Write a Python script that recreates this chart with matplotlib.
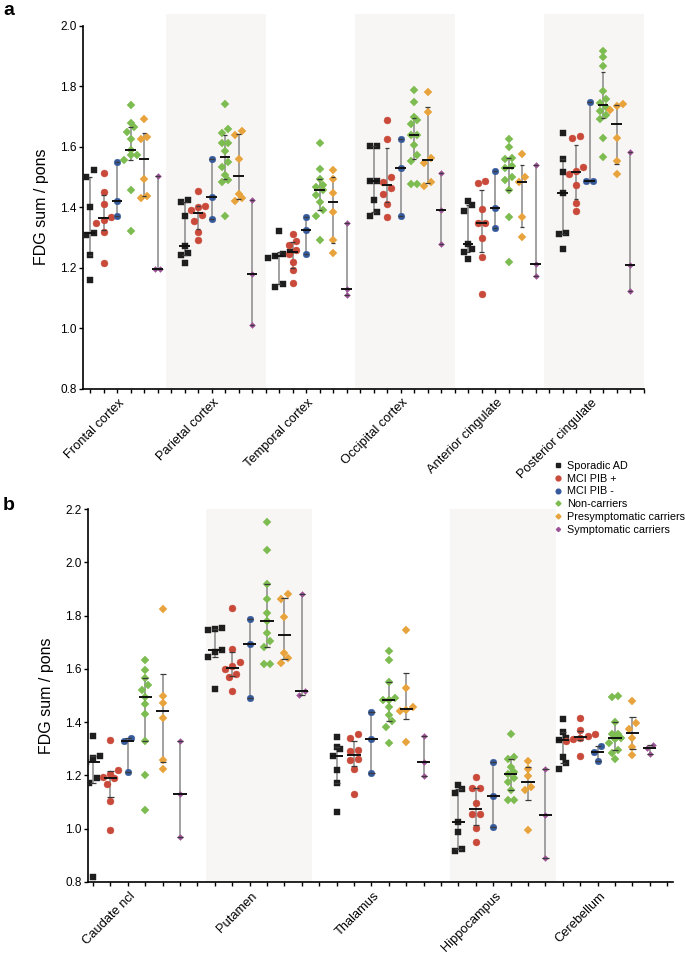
import numpy as np
import matplotlib
matplotlib.use("Agg")
import matplotlib.pyplot as plt
import matplotlib.transforms as mtransforms
from matplotlib.lines import Line2D

plt.rcParams['font.family'] = ['Liberation Sans', 'DejaVu Sans']

# ---------------- data ----------------
groups = ['Sporadic AD', 'MCI PIB +', 'MCI PIB -', 'Non-carriers',
          'Presymptomatic carriers', 'Symptomatic carriers']

regions_a = ['Frontal cortex', 'Parietal cortex', 'Temporal cortex',
             'Occipital cortex', 'Anterior cingulate', 'Posterior cingulate']
regions_b = ['Caudate ncl', 'Putamen', 'Thalamus', 'Hippocampus', 'Cerebellum']

yticks_a = [0.8, 1.0, 1.2, 1.4, 1.6, 1.8, 2.0]
yticks_b = [0.8, 1.0, 1.2, 1.4, 1.6, 1.8, 2.0, 2.2]

sporadic_a = [
    [1.523, 1.501, 1.402, 1.314, 1.308, 1.242, 1.159],
    [1.423, 1.418, 1.372, 1.272, 1.250, 1.241, 1.215],
    [1.322, 1.253, 1.245, 1.240, 1.231, 1.146, 1.135],
    [1.602, 1.602, 1.487, 1.487, 1.423, 1.385, 1.370],
    [1.422, 1.407, 1.388, 1.277, 1.261, 1.253, 1.228],
    [1.646, 1.560, 1.516, 1.446, 1.314, 1.310, 1.261],
]
mci_pos_a = [
    [1.512, 1.449, 1.411, 1.369, 1.358, 1.347, 1.319, 1.215],
    [1.454, 1.404, 1.400, 1.390, 1.374, 1.355, 1.319, 1.291],
    [1.313, 1.289, 1.275, 1.258, 1.245, 1.220, 1.192, 1.150],
    [1.688, 1.627, 1.500, 1.484, 1.465, 1.443, 1.410, 1.366],
    [1.486, 1.479, 1.394, 1.349, 1.347, 1.299, 1.237, 1.113],
    [1.635, 1.628, 1.534, 1.520, 1.510, 1.472, 1.413, 1.388],
]
mci_neg_a = [
    [1.548, 1.421, 1.370],
    [1.558, 1.434, 1.361],
    [1.366, 1.324, 1.245],
    [1.627, 1.528, 1.372],
    [1.520, 1.396, 1.332],
    [1.747, 1.487, 1.487],
]
noncarriers_a = [
    [1.737, 1.677, 1.664, 1.649, 1.625, 1.589, 1.574, 1.571, 1.556, 1.456, 1.322],
    [1.741, 1.657, 1.646, 1.613, 1.611, 1.585, 1.550, 1.534, 1.506, 1.490, 1.484, 1.372],
    [1.613, 1.525, 1.492, 1.473, 1.467, 1.456, 1.440, 1.418, 1.390, 1.370, 1.293],
    [1.787, 1.748, 1.697, 1.688, 1.675, 1.640, 1.640, 1.607, 1.572, 1.553, 1.476, 1.476],
    [1.624, 1.600, 1.564, 1.558, 1.536, 1.531, 1.499, 1.489, 1.457, 1.369, 1.218],
    [1.916, 1.895, 1.867, 1.785, 1.757, 1.745, 1.730, 1.719, 1.705, 1.690, 1.630, 1.567],
]
presymp_a = [
    [1.690, 1.631, 1.624, 1.493, 1.438, 1.429],
    [1.652, 1.640, 1.558, 1.445, 1.430, 1.420],
    [1.523, 1.492, 1.448, 1.385, 1.293, 1.250],
    [1.780, 1.715, 1.564, 1.545, 1.484, 1.470],
    [1.575, 1.501, 1.482, 1.369, 1.300],
    [1.741, 1.735, 1.721, 1.628, 1.553, 1.509],
]
symp_a = [
    [1.503, 1.197, 1.197],
    [1.423, 1.179, 1.012],
    [1.348, 1.131, 1.109],
    [1.514, 1.390, 1.278],
    [1.541, 1.213, 1.174],
    [1.584, 1.209, 1.123],
]

sporadic_b = [
    [1.349, 1.274, 1.267, 1.249, 1.189, 1.170, 0.820],
    [1.754, 1.749, 1.745, 1.670, 1.665, 1.645, 1.526],
    [1.345, 1.308, 1.300, 1.274, 1.220, 1.170, 1.064],
    [1.164, 1.148, 1.133, 1.024, 0.988, 0.924, 0.918],
    [1.411, 1.364, 1.342, 1.332, 1.270, 1.248, 1.224],
]
mci_pos_b = [
    [1.332, 1.222, 1.205, 1.195, 1.189, 1.167, 1.104, 0.997],
    [1.829, 1.674, 1.626, 1.610, 1.600, 1.582, 1.570, 1.516],
    [1.357, 1.342, 1.295, 1.290, 1.260, 1.257, 1.226, 1.130],
    [1.195, 1.154, 1.154, 1.095, 1.054, 1.054, 1.001, 0.951],
    [1.416, 1.372, 1.355, 1.347, 1.339, 1.335, 1.330, 1.272],
]
mci_neg_b = [
    [1.342, 1.330, 1.214],
    [1.786, 1.692, 1.491],
    [1.439, 1.335, 1.210],
    [1.249, 1.123, 1.006],
    [1.310, 1.289, 1.255],
]
noncarriers_b = [
    [1.635, 1.595, 1.566, 1.541, 1.520, 1.495, 1.467, 1.430, 1.331, 1.201, 1.070],
    [2.153, 2.045, 1.917, 1.864, 1.811, 1.780, 1.736, 1.705, 1.682, 1.620, 1.620],
    [1.667, 1.635, 1.551, 1.492, 1.482, 1.482, 1.457, 1.426, 1.405, 1.382, 1.322],
    [1.357, 1.270, 1.261, 1.233, 1.214, 1.205, 1.189, 1.176, 1.145, 1.107, 1.107],
    [1.497, 1.495, 1.401, 1.357, 1.355, 1.340, 1.335, 1.320, 1.297, 1.285, 1.260],
]
presymp_b = [
    [1.826, 1.497, 1.470, 1.417, 1.257, 1.224],
    [1.880, 1.861, 1.795, 1.660, 1.642, 1.622],
    [1.747, 1.529, 1.455, 1.447, 1.440, 1.326],
    [1.254, 1.226, 1.197, 1.155, 1.145, 0.995],
    [1.480, 1.397, 1.376, 1.342, 1.305, 1.276],
]
symp_b = [
    [1.329, 1.130, 0.970],
    [1.880, 1.517, 1.501],
    [1.347, 1.249, 1.199],
    [1.226, 1.052, 0.889],
    [1.316, 1.304, 1.280],
]

# ---------------- styles / layout ----------------
colors = ['#1e1e1e', '#c94a3a', '#35599b', '#7dbc50', '#e8a33c', '#9c5296']
markers = ['s', 'o', 'o', 'D', 'D', 'D']
msizes = [4.9, 5.0, 4.8, 3.6, 3.6, 3.0]
diam_px = [6.8, 7.0, 6.7, 6.0, 6.0, 5.2]
band_color = '#f8f6f4'

starts_a = [0, 7, 14, 21, 28, 35]
starts_b = [0, 7, 14, 21, 27]

FIG_W, FIG_H = 685, 958
fig = plt.figure(figsize=(FIG_W / 100, FIG_H / 100), dpi=100)


def spread(vals, ypx, diam):
    """Beeswarm-like horizontal offsets (pixels) so markers do not overlap."""
    vals = np.asarray(vals, float)
    order = np.argsort(vals)
    offs = np.zeros(len(vals))
    rows, cur = [], [order[0]]
    for i in order[1:]:
        if (vals[i] - vals[cur[0]]) * ypx < diam * 1.05:
            cur.append(i)
        else:
            rows.append(cur)
            cur = [i]
    rows.append(cur)
    for r in rows:
        k = len(r)
        for j, i in enumerate(r):
            offs[i] = (j - (k - 1) / 2) * diam * 1.05
    return offs


def draw_panel(rect_px, xlim, ylim, yticks, data, regions, starts,
               band_idx, band_span, band_top, label_dx):
    l, b, r, t = rect_px
    ax = fig.add_axes([l / FIG_W, 1 - b / FIG_H, (r - l) / FIG_W, (b - t) / FIG_H])
    ax.set_xlim(*xlim)
    ax.set_ylim(*ylim)
    slot_px = (r - l) / (xlim[1] - xlim[0])
    ypx = (b - t) / (ylim[1] - ylim[0])
    for ri in band_idx:
        s = starts[ri]
        ax.fill_between([s + band_span[0], s + band_span[1]], ylim[0], band_top,
                        color=band_color, lw=0, zorder=0, clip_on=False)
    for g in range(6):
        for ri in range(len(regions)):
            vals = np.asarray(data[g][ri], float)
            x0 = starts[ri] + g
            offs = spread(vals, ypx, diam_px[g]) / slot_px
            q1, med, q3 = np.percentile(vals, [25, 50, 75], method='weibull')
            ax.vlines(x0, q1, q3, color='#9a9a9a', lw=1.3, zorder=2)
            ax.hlines([q1, q3], x0 - 0.18, x0 + 0.18, color='#3a3a3a', lw=0.9, zorder=4)
            ax.plot(x0 + offs, vals, ls='none', marker=markers[g], ms=msizes[g],
                    mfc=colors[g], mec=colors[g], mew=0.3, zorder=3)
            ax.hlines(med, x0 - 0.38, x0 + 0.38, color='#111111', lw=1.4, zorder=5)
    for s in ['top', 'right']:
        ax.spines[s].set_visible(False)
    for s in ['left', 'bottom']:
        ax.spines[s].set_linewidth(1.2)
    nslots = int(np.floor(xlim[1]))
    ax.set_xticks(np.arange(0, nslots + 1))
    ax.set_xticklabels([])
    ax.set_yticks(yticks)
    ax.set_yticklabels([f'{v:.1f}' for v in yticks])
    ax.tick_params(axis='both', direction='out', length=3, width=1, labelsize=8.5, pad=1.5)
    ax.set_ylabel('FDG sum / pons', fontsize=11.5, labelpad=8)
    trans = mtransforms.blended_transform_factory(ax.transData, ax.transAxes)
    off = 8 / (b - t)
    for ri, name in enumerate(regions):
        ax.text(starts[ri] + 2.5 + label_dx, -off, name, transform=trans, rotation=45,
                ha='right', va='top', rotation_mode='anchor', fontsize=9.3)
    return ax


data_a = [sporadic_a, mci_pos_a, mci_neg_a, noncarriers_a, presymp_a, symp_a]
data_b = [sporadic_b, mci_pos_b, mci_neg_b, noncarriers_b, presymp_b, symp_b]

ax_a = draw_panel((83, 388.7, 643.5, 25.7), (-0.52, 41.0), (0.8, 2.0), yticks_a,
                  data_a, regions_a, starts_a, [1, 3, 5], (-1.4, 6.0), 2.04, -0.4)
ax_b = draw_panel((88, 882, 673, 509), (-0.29, 33.33), (0.8, 2.2), yticks_b,
                  data_b, regions_b, starts_b, [1, 3], (-0.5, 5.6), 2.2, -0.4)

fig.text(3 / FIG_W, 1 - 2 / FIG_H, 'a', fontsize=14, fontweight='bold', va='top', ha='left')
fig.text(3 / FIG_W, 1 - 497 / FIG_H, 'b', fontsize=14, fontweight='bold', va='top', ha='left')

handles = [Line2D([], [], ls='none', marker=markers[g], color=colors[g],
                  ms=msizes[g] * 0.7) for g in range(6)]
fig.legend(handles, groups, loc='upper left', bbox_to_anchor=(553 / FIG_W, 1 - 461 / FIG_H),
           frameon=False, fontsize=7.8, handletextpad=0.3, labelspacing=0.25,
           handlelength=1.0, borderpad=0, borderaxespad=0)

fig.savefig('out.png', dpi=100)
